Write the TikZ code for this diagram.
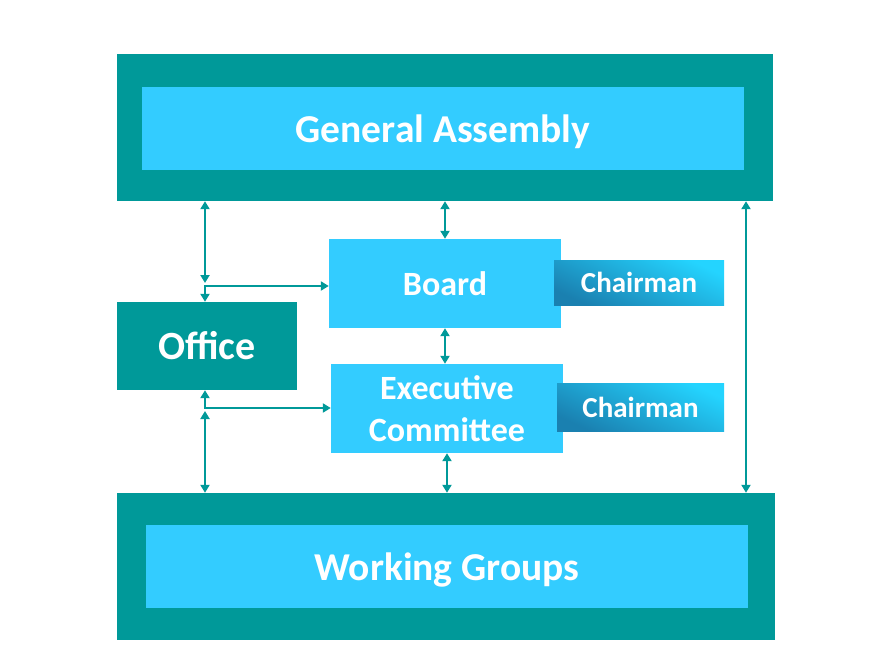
\documentclass[tikz,border=0pt]{standalone}
\usepackage{fontspec}
\setmainfont{Carlito}
\usetikzlibrary{arrows.meta}
\definecolor{tealc}{HTML}{009999}
\definecolor{skyc}{HTML}{33CCFF}
\definecolor{chdark}{HTML}{1A80B0}
\definecolor{chlight}{HTML}{24D4FF}
\begin{document}
\begin{tikzpicture}[x=1pt,y=-1pt,
  outerbox/.style={fill=tealc,draw=none,inner sep=0pt},
  innerbox/.style={fill=skyc,draw=none,inner sep=0pt,text depth=0pt,text=white,font=\bfseries\fontsize{39.5}{44}\selectfont},
  officebox/.style={fill=tealc,draw=none,inner sep=0pt,text=white,font=\bfseries\fontsize{40}{44}\selectfont},
  midbox/.style={fill=skyc,draw=none,inner sep=0pt,text=white,align=center,font=\bfseries\fontsize{34}{42}\selectfont},
  chairbox/.style={draw=none,inner sep=0pt,text=white,shading=axis,bottom color=chdark,top color=chlight,shading angle=-25,font=\bfseries\fontsize{29}{34}\selectfont},
  dbl/.style={draw=tealc,line width=2.8pt,{Triangle[width=9pt,length=8pt]}-{Triangle[width=9pt,length=8pt]}}
]
\useasboundingbox[fill=white] (0,0) rectangle (890,668);
% General Assembly
\node[outerbox,minimum width=656pt,minimum height=147pt] (GAo) at (445,127.5) {};
\node[innerbox,minimum width=602pt,minimum height=83pt] (GA) at (443,128.5) {General Assembly};
% Working Groups
\node[outerbox,minimum width=658pt,minimum height=147pt] (WGo) at (446,566.5) {};
\node[innerbox,minimum width=602pt,minimum height=83pt] (WG) at (447,566.5) {Working Groups};
% Office
\node[officebox,minimum width=180pt,minimum height=88pt] (Office) at (207,346) {Office};
% Board and Executive Committee
\node[midbox,minimum width=232pt,minimum height=89pt] (Board) at (445,283.5) {Board};
\node[midbox,minimum width=232pt,minimum height=89pt] (Exec) at (447,408.5) {Executive\\Committee};
% Chairmen
\node[chairbox,minimum width=170pt,minimum height=45pt] (Ch1) at (639,282.5) {Chairman};
\node[chairbox,minimum width=167pt,minimum height=48pt] (Ch2) at (640.5,407) {Chairman};
% connectors
\coordinate (e1) at (205,286);
\coordinate (e2) at (205,408);
\coordinate (r) at (746,0);
\draw[dbl] (GAo.south -| e1) -- ([yshift=3pt]e1);
\draw[dbl] (Office.north -| e1) -- (e1) -- (e1 -| Board.west);
\draw[dbl] (Office.south -| e2) -- (e2) -- (e2 -| Exec.west);
\draw[dbl] ([yshift=-3pt]e2) -- (WGo.north -| e2);
\draw[dbl] (GAo.south -| Board.north) -- (Board.north);
\draw[dbl] (Board.south) -- (Exec.north -| Board.south);
\draw[dbl] (Exec.south) -- (WGo.north -| Exec.south);
\draw[dbl] (GAo.south -| r) -- (WGo.north -| r);
\end{tikzpicture}
\end{document}
